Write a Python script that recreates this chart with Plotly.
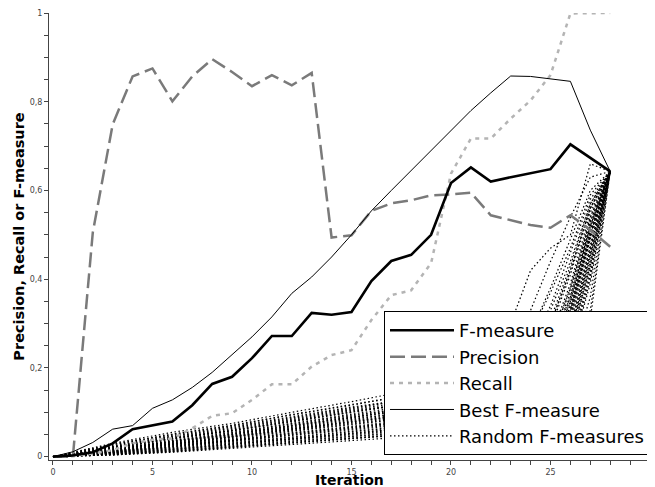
import plotly.graph_objects as go

iterations = list(range(29))

f_measure = [0, 0.003, 0.01, 0.03, 0.062, 0.07, 0.079, 0.116, 0.164, 0.18, 0.222,
             0.272, 0.272, 0.324, 0.32, 0.326, 0.396, 0.441, 0.455, 0.5, 0.617,
             0.652, 0.62, 0.63, 0.639, 0.648, 0.704, 0.674, 0.643]

precision = [0, 0, 0.505, 0.749, 0.857, 0.875, 0.801, 0.857, 0.896, 0.867, 0.835,
             0.86, 0.837, 0.865, 0.494, 0.499, 0.554, 0.571, 0.578, 0.589, 0.591,
             0.595, 0.544, 0.533, 0.522, 0.516, 0.544, 0.511, 0.473]

recall = [0, 0.001, 0.007, 0.015, 0.03, 0.038, 0.041, 0.064, 0.092, 0.098, 0.128,
          0.163, 0.163, 0.203, 0.229, 0.240, 0.308, 0.364, 0.375, 0.436, 0.638,
          0.717, 0.717, 0.762, 0.803, 0.860, 0.999, 1.0, 1.0]

best_f = [0, 0.011, 0.032, 0.062, 0.07, 0.109, 0.128, 0.156, 0.19, 0.23, 0.27,
          0.315, 0.368, 0.405, 0.45, 0.50, 0.554, 0.60, 0.645, 0.69, 0.735,
          0.78, 0.82, 0.858, 0.857, 0.852, 0.846, 0.736, 0.643]

random_x = [0, 3, 6, 9, 12, 15, 18, 21, 23, 24, 25, 26, 27, 28]
random_f = [
    [0, .030, .055, .075, .100, .124, .15, .19, .30, .42, .47, .50, .66, .643],
    [0, .028, .050, .070, .095, .118, .14, .17, .24, .33, .44, .54, .63, .643],
    [0, .025, .048, .068, .090, .112, .13, .16, .20, .28, .38, .49, .60, .643],
    [0, .022, .045, .064, .086, .108, .13, .15, .18, .25, .34, .46, .58, .643],
    [0, .020, .042, .060, .082, .104, .12, .14, .16, .22, .31, .43, .57, .643],
    [0, .018, .040, .058, .078, .100, .12, .14, .15, .20, .29, .41, .56, .643],
    [0, .017, .037, .055, .075, .096, .115, .135, .14, .19, .27, .39, .55, .643],
    [0, .015, .035, .052, .072, .092, .11, .13, .14, .18, .25, .37, .54, .643],
    [0, .014, .033, .050, .069, .088, .105, .125, .13, .17, .24, .36, .53, .643],
    [0, .013, .031, .047, .066, .084, .10, .12, .13, .17, .23, .34, .52, .643],
    [0, .012, .029, .045, .063, .080, .095, .115, .12, .16, .22, .33, .51, .643],
    [0, .011, .027, .043, .060, .076, .09, .11, .12, .15, .21, .32, .50, .643],
    [0, .010, .025, .040, .057, .072, .087, .105, .11, .15, .20, .31, .49, .643],
    [0, .010, .024, .038, .054, .068, .083, .10, .11, .14, .19, .29, .47, .643],
    [0, .009, .022, .036, .051, .064, .078, .095, .10, .14, .18, .28, .46, .643],
    [0, .008, .020, .034, .048, .060, .074, .09, .10, .13, .17, .27, .45, .643],
    [0, .008, .019, .032, .045, .057, .07, .085, .10, .13, .17, .26, .43, .643],
    [0, .007, .017, .029, .042, .053, .065, .08, .09, .12, .16, .24, .41, .643],
    [0, .006, .015, .027, .038, .049, .06, .075, .09, .12, .15, .23, .39, .643],
    [0, .005, .013, .024, .035, .045, .055, .07, .09, .11, .14, .21, .36, .643],
    [0, .004, .011, .021, .031, .040, .05, .065, .08, .11, .14, .20, .33, .643],
    [0, .004, .010, .019, .028, .037, .045, .06, .08, .10, .13, .19, .31, .643],
    [0, .020, .040, .058, .080, .100, .12, .145, .20, .28, .37, .47, .59, .643],
    [0, .016, .034, .050, .070, .088, .11, .13, .17, .24, .33, .44, .57, .643],
    [0, .012, .028, .044, .062, .078, .095, .115, .15, .21, .30, .42, .56, .643],
    [0, .009, .023, .037, .052, .066, .08, .10, .13, .18, .26, .38, .54, .643],
    [0, .006, .016, .028, .040, .052, .065, .08, .11, .16, .23, .35, .52, .643],
    [0, .005, .012, .022, .032, .042, .052, .065, .10, .14, .21, .33, .50, .643],
    [0, .027, .051, .071, .094, .116, .14, .16, .17, .22, .30, .42, .56, .643],
    [0, .023, .046, .066, .088, .110, .13, .15, .15, .19, .26, .38, .53, .643],
    [0, .021, .043, .062, .084, .106, .125, .145, .15, .18, .25, .36, .52, .643],
    [0, .019, .041, .059, .080, .102, .12, .14, .14, .18, .24, .35, .51, .643],
    [0, .016, .036, .054, .074, .094, .11, .13, .13, .17, .23, .34, .50, .643],
    [0, .015, .034, .051, .070, .090, .105, .125, .13, .16, .22, .33, .50, .643],
    [0, .013, .032, .048, .067, .086, .10, .12, .12, .16, .22, .32, .49, .643],
    [0, .012, .030, .046, .064, .082, .097, .115, .12, .15, .21, .31, .48, .643],
    [0, .011, .028, .044, .061, .078, .093, .11, .11, .15, .20, .30, .47, .643],
    [0, .010, .026, .041, .058, .074, .088, .105, .11, .14, .19, .29, .46, .643],
    [0, .009, .023, .037, .053, .066, .08, .097, .10, .14, .19, .28, .45, .643],
    [0, .008, .021, .035, .049, .062, .076, .092, .10, .13, .18, .27, .44, .643],
    [0, .007, .018, .031, .044, .056, .068, .085, .09, .13, .17, .26, .43, .643],
    [0, .006, .016, .028, .040, .051, .062, .078, .09, .12, .16, .25, .42, .643],
    [0, .005, .014, .025, .036, .046, .057, .072, .09, .12, .16, .24, .41, .643],
    [0, .004, .012, .022, .032, .041, .051, .066, .08, .11, .15, .23, .40, .643],
]

FONT = "DejaVu Sans"
fig = go.Figure()

for i, ys in enumerate(random_f):
    fig.add_trace(go.Scatter(
        x=random_x, y=ys, mode="lines", name="Random F-measures",
        line=dict(color="black", width=1.2, dash="1.5px,2.5px"),
        showlegend=(i == 0), legendrank=5, hoverinfo="skip"))

fig.add_trace(go.Scatter(x=iterations, y=precision, mode="lines", name="Precision",
                         line=dict(color="#7a7a7a", width=2.5, dash="15px,6px"), legendrank=2))
fig.add_trace(go.Scatter(x=iterations, y=recall, mode="lines", name="Recall",
                         line=dict(color="#b4b4b4", width=2.5, dash="4px,5px"), legendrank=3))
fig.add_trace(go.Scatter(x=iterations, y=best_f, mode="lines", name="Best F-measure",
                         line=dict(color="black", width=1), legendrank=4))
fig.add_trace(go.Scatter(x=iterations, y=f_measure, mode="lines", name="F-measure",
                         line=dict(color="black", width=2.6), legendrank=1))

axis_common = dict(
    showgrid=False, zeroline=False, showline=True, linecolor="#444", linewidth=1,
    ticks="outside", ticklen=4, tickwidth=1, tickcolor="#444", automargin=False,
    tickfont=dict(family=FONT, size=8, color="#444"),
)

# The page body adds an 8px offset, so the figure is 8px smaller on each axis.
fig.update_layout(
    width=647, height=479,
    margin=dict(l=41, r=5, t=5, b=27),
    paper_bgcolor="white", plot_bgcolor="white",
    separators=",.",
    font=dict(family=FONT, color="black"),
    xaxis=dict(range=[-0.2, 30], tick0=0, dtick=5,
               minor=dict(dtick=1, tick0=0, ticks="outside", ticklen=4, tickcolor="#444"),
               **axis_common),
    yaxis=dict(range=[-0.0075, 1], tick0=0, dtick=0.2,
               minor=dict(dtick=0.05, tick0=0, ticks="outside", ticklen=4, tickcolor="#444"),
               title=dict(text="<b>Precision, Recall or F-measure</b>", font=dict(family=FONT, size=14.5), standoff=1),
               **axis_common),
    legend=dict(x=1, y=0.011, xanchor="right", yanchor="bottom",
                bgcolor="white", bordercolor="black", borderwidth=1,
                font=dict(family=FONT, size=18, color="black"),
                itemwidth=64, traceorder="normal"),
    annotations=[dict(text="<b>Iteration</b>", xref="paper", yref="paper",
                      x=0.5, y=-0.044, xanchor="center", yanchor="middle",
                      showarrow=False, font=dict(family=FONT, size=14, color="black"))],
)

fig.write_html("out.html")
